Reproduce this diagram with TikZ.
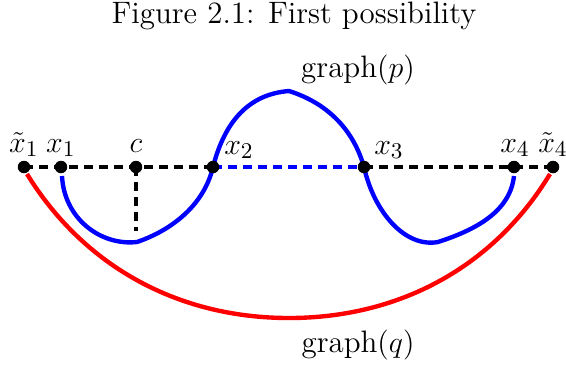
\documentclass[tikz,border=0pt]{standalone}
\begin{document}
\begin{tikzpicture}[x=0.4pt,y=-0.4pt,
  every node/.style={font=\fontsize{12.4}{14}\selectfont},
  dot/.style={circle,fill=black,inner sep=0pt,minimum size=5pt},
  lab/.style={inner sep=0pt,anchor=base},
  axisline/.style={line width=1.75pt,dash pattern=on 3.4pt off 2.6pt},
  bl/.style={blue,line width=1.75pt},
  rd/.style={red,line width=1.75pt}]
\useasboundingbox (0,0) rectangle (566,369);
% texts
\node[lab] (title) at (294,23) {Figure 2.1: First possibility};
\node[lab] (gp) at (358,77) {graph$(p)$};
\node[lab] (gq) at (358,352) {graph$(q)$};
% points
\coordinate (X1t) at (24,167);
\coordinate (X1) at (61,167);
\coordinate (C) at (136,167);
\coordinate (Cb) at (136,231);
\coordinate (X2) at (213,167);
\coordinate (X3) at (364,167);
\coordinate (X4) at (514,167);
\coordinate (X4t) at (553,167);
\coordinate (X1s) at (62,176);
\coordinate (X4s) at (514,176);
\coordinate (R1) at (27,174);
\coordinate (R4) at (550,174);
\coordinate (M1) at (137,242);
\coordinate (M2) at (438,242);
\coordinate (P) at (289,91);
\coordinate (Rb) at (289,318);
% axis
\draw[axisline] (X1t) -- (X2);
\draw[axisline,blue] (X2) -- (X3);
\draw[axisline] (X3) -- (X4t);
\draw[axisline] (C) -- (Cb);
% graph p
\draw[bl] (X1s) .. controls (64,218) and (100,246) .. (M1)
  .. controls (172,230) and (204,205) .. (X2)
  .. controls (225,120) and (250,94) .. (P)
  .. controls (330,104) and (354,132) .. (X3)
  .. controls (374,212) and (405,248) .. (M2)
  .. controls (475,230) and (510,212) .. (X4s);
% graph q
\draw[rd] (R1) .. controls (85,268) and (180,318) .. (Rb)
  .. controls (398,318) and (493,268) .. (R4);
% dots
\foreach \p in {X1t,X1,C,X2,X3,X4,X4t} \node[dot] (d\p) at (\p) {};
% labels
\node[lab] (l1t) at (24,152) {$\tilde{x}_1$};
\node[lab] (l1) at (61,152) {$x_1$};
\node[lab] (lc) at (136,152) {$c$};
\node[lab] (l2) at (239,154) {$x_2$};
\node[lab] (l3) at (389,154) {$x_3$};
\node[lab] (l4) at (515,152) {$x_4$};
\node[lab] (l4t) at (553,152) {$\tilde{x}_4$};
\end{tikzpicture}
\end{document}
